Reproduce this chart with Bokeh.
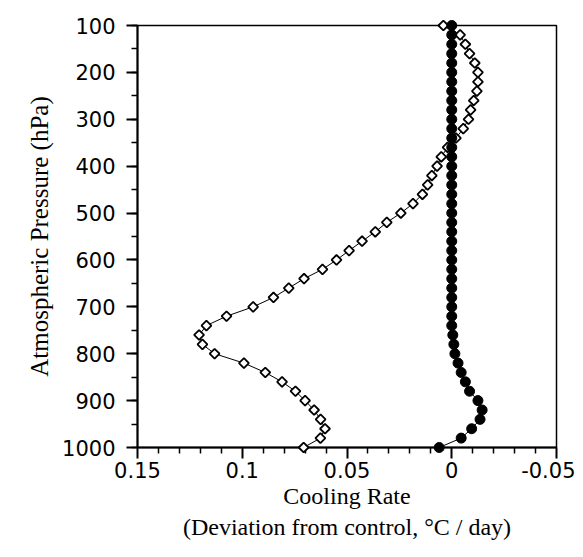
import math
from bokeh.plotting import figure
from bokeh.models import Range1d, FixedTicker, SingleIntervalTicker, ColumnDataSource
from bokeh.embed import file_html
from bokeh.resources import INLINE

# Pressure levels (hPa)
pressure = [100, 120, 140, 160, 180, 200, 220, 240, 260, 280,
            300, 320, 340, 360, 380, 400, 420, 440, 460, 480,
            500, 520, 540, 560, 580, 600, 620, 640, 660, 680,
            700, 720, 740, 760, 780, 800, 820, 840, 860, 880,
            900, 920, 940, 960, 980, 1000]

# Open diamonds series (cooling-rate deviation, °C/day)
open_series = [0.004, -0.004, -0.0065, -0.0085, -0.011, -0.0125, -0.0125, -0.012, -0.0105, -0.009,
               -0.008, -0.0055, -0.002, 0.002, 0.005, 0.007, 0.0095, 0.0115, 0.014, 0.0185,
               0.0243, 0.031, 0.0365, 0.0428, 0.049, 0.055, 0.0617, 0.0705, 0.0778, 0.0851,
               0.0948, 0.1075, 0.1171, 0.1206, 0.119, 0.1132, 0.0992, 0.089, 0.081, 0.0746,
               0.07, 0.0657, 0.0626, 0.0605, 0.0627, 0.0707]

# Filled circles series
filled_series = [0.0, 0.0, 0.0, 0.0, 0.0, 0.0, 0.0, 0.0, 0.0, 0.0,
                 0.0, 0.0, 0.0, 0.0, 0.0, 0.0, 0.0, 0.0, 0.0, 0.0,
                 0.0, 0.0, 0.0, 0.0, 0.0, 0.0, 0.0, 0.0, 0.0, 0.0,
                 0.0, 0.0, 0.0, -0.0005, -0.001, -0.0015, -0.003, -0.0045, -0.0065, -0.0085,
                 -0.0125, -0.0145, -0.0135, -0.0095, -0.0045, 0.006]

x_ticks = [0.15, 0.1, 0.05, 0.0, -0.05]
x_tick_labels = ["0.15", "0.1", "0.05", "0", "-0.05"]
x_minor_ticks = [0.14, 0.13, 0.12, 0.11, 0.09, 0.08, 0.07, 0.06,
                 0.04, 0.03, 0.02, 0.01, -0.01, -0.02, -0.03, -0.04]

src = ColumnDataSource(dict(p=pressure, a=open_series, b=filled_series))

p = figure(width=575, height=549, output_backend="svg", toolbar_location=None,
           x_range=Range1d(0.15, -0.05), y_range=Range1d(1000, 100),
           min_border_left=137, min_border_top=25, min_border_right=19, min_border_bottom=102)

p.grid.visible = False
p.background_fill_color = "white"
p.border_fill_color = "white"
p.outline_line_color = "black"
p.outline_line_width = 1.5

# open diamonds with thin line
p.line("a", "p", source=src, line_color="black", line_width=1)
p.scatter("a", "p", source=src, marker="square", angle=math.pi / 4, size=7,
          fill_color="white", line_color="black", line_width=1.8)

# filled circles
p.line("b", "p", source=src, line_color="black", line_width=1)
p.scatter("b", "p", source=src, marker="circle", size=10,
          fill_color="black", line_color="black")

for r in p.renderers:
    r.level = "overlay"

p.xaxis.ticker = FixedTicker(ticks=x_ticks, minor_ticks=x_minor_ticks)
p.yaxis.ticker = SingleIntervalTicker(interval=100, num_minor_ticks=2)
p.xaxis.major_label_overrides = {v: s for v, s in zip(x_ticks, x_tick_labels)}

for ax in (p.xaxis[0], p.yaxis[0]):
    ax.axis_line_width = 2
    ax.axis_line_color = "black"
    ax.major_tick_line_width = 2
    ax.minor_tick_line_width = 1.5
    ax.major_tick_out = 11
    ax.major_tick_in = 0
    ax.minor_tick_out = 6
    ax.minor_tick_in = 0
    ax.major_label_text_font = "DejaVu Sans"
    ax.major_label_text_font_size = "21px"
    ax.major_label_text_color = "black"
    ax.axis_label_text_font = "Liberation Serif"
    ax.axis_label_text_font_style = "normal"
    ax.axis_label_text_color = "black"

p.xaxis.major_label_standoff = 3
p.yaxis.major_label_standoff = 11
p.xaxis.axis_label = "Cooling Rate\n(Deviation from control, \u00b0C / day)"
p.xaxis.axis_label_text_font_size = "24px"
p.xaxis.axis_label_standoff = 2
p.yaxis.axis_label = "Atmospheric Pressure (hPa)"
p.yaxis.axis_label_text_font_size = "25px"
p.yaxis.axis_label_standoff = 6

open("out.html", "w").write(file_html(p, INLINE))
